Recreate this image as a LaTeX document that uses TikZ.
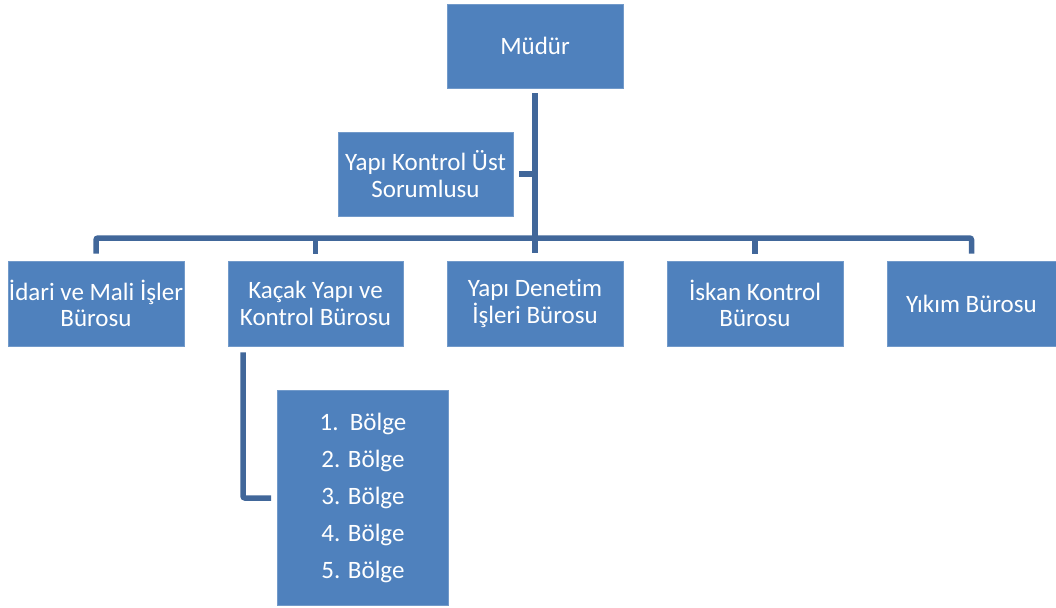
\documentclass[tikz,border=0pt]{standalone}
\usepackage{fontspec}
\setmainfont{Carlito}[Ligatures=NoCommon]
\usepackage{tikz}

\definecolor{boxblue}{HTML}{4F81BD}
\definecolor{linkblue}{HTML}{41679A}

\tikzset{
  unit/.style={fill=boxblue, draw=boxblue!80!white, line width=0.8pt, text=white,
    align=center, inner sep=0pt, minimum width=176pt, minimum height=85pt,
    font=\fontsize{25}{26.5}\selectfont},
  link/.style={draw=linkblue, line width=5.5pt, rounded corners=2pt}
}

\begin{document}
\begin{tikzpicture}[x=1pt,y=-1pt]
  \useasboundingbox (0,0) rectangle (1056,607);

  \node[unit, minimum height=84pt] (mudur) at (535,46) {Müdür};
  \node[unit, minimum width=175pt, minimum height=84pt] (ust) at (425.5,174) {Yapı Kontrol Üst\\Sorumlusu};

  \node[unit] (idari) at (96,303.5) {İdari ve Mali İşler\\Bürosu};
  \node[unit, minimum width=175pt] (kacak) at (315.5,303.5) {Kaçak Yapı ve\\Kontrol Bürosu};
  \node[unit] (denetim) at (535,303.5) {Yapı Denetim\\İşleri Bürosu};
  \node[unit] (iskan) at (755,303.5) {İskan Kontrol\\Bürosu};
  \node[unit, minimum width=169pt] (yikim) at (971.5,303.5) {Yıkım Bürosu};

  \node[unit, minimum width=171pt, minimum height=215pt,
    font=\fontsize{25}{37}\selectfont] (bolge) at (363,498)
    {1.\ \ Bölge\\2. Bölge\\3. Bölge\\4. Bölge\\5. Bölge};

  % connectors
  \coordinate (bus) at (535,238);
  \draw[link] ([yshift=-5pt]mudur.south) -- ([yshift=8pt]denetim.north);
  \draw[link] ([xshift=6pt]ust.east) -- (ust.east -| mudur.south);
  \draw[link] ([yshift=7pt]idari.north) |- (bus) -| ([yshift=7pt]yikim.north);
  \draw[link] ([yshift=7pt]kacak.north) -- (kacak.north |- bus);
  \draw[link] ([yshift=7pt]iskan.north) -- (iskan.north |- bus);
  \draw[link] ([xshift=-72.5pt,yshift=-6pt]kacak.south) |- ([xshift=-6pt]bolge.west);
\end{tikzpicture}
\end{document}
